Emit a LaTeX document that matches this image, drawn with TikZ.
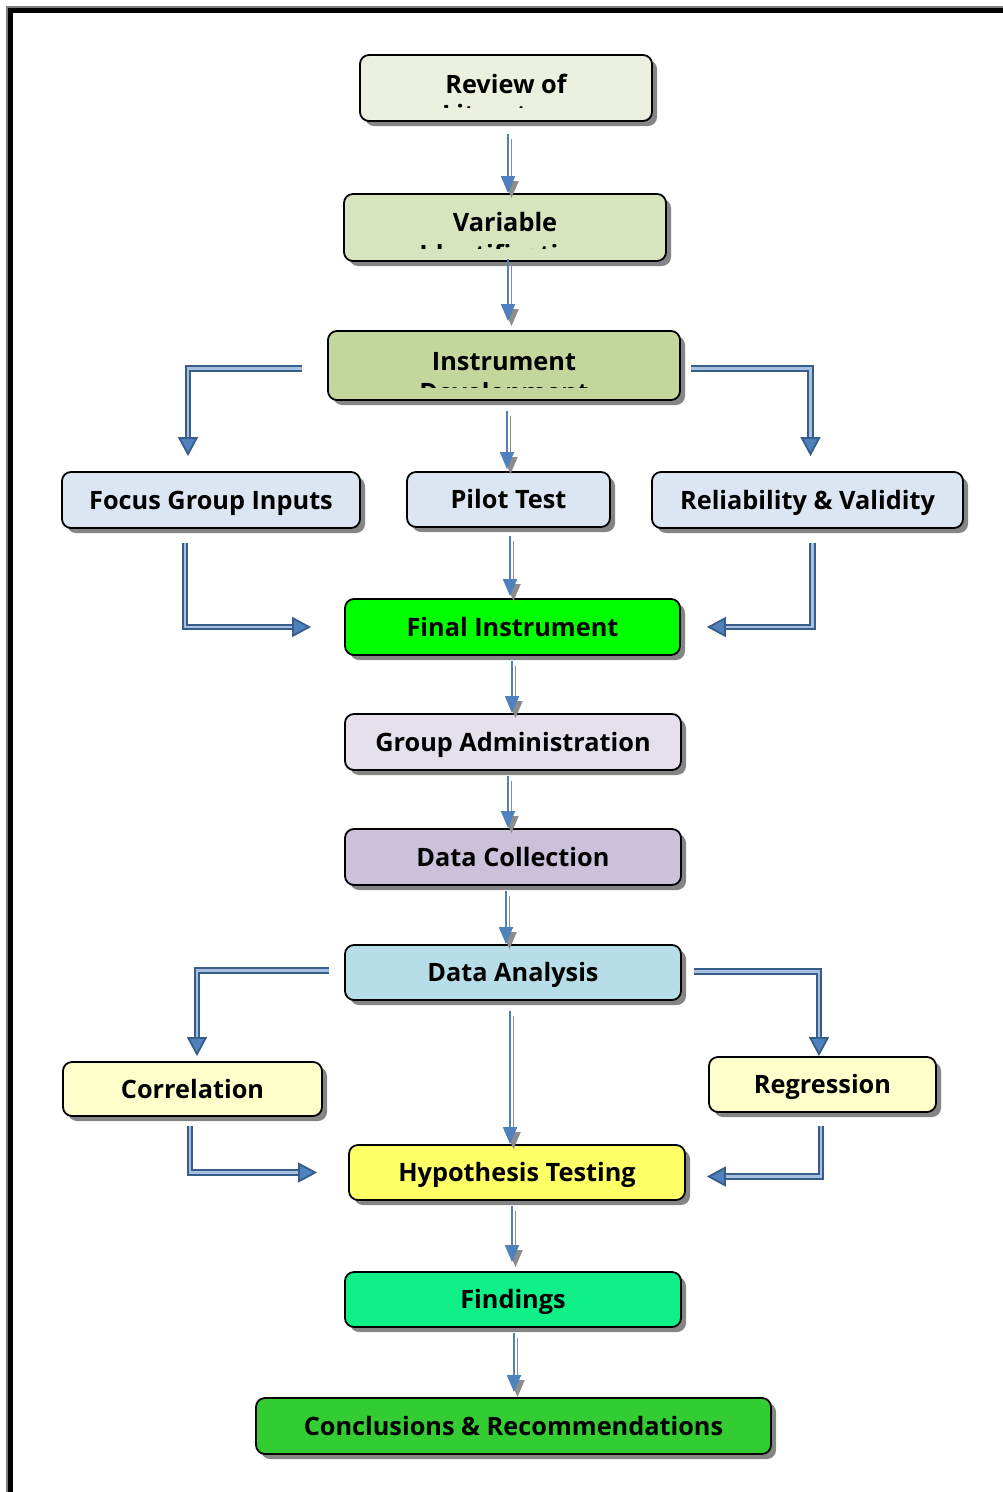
\documentclass[tikz,border=0pt]{standalone}
\usepackage{fontspec}
\setmainfont{Open Sans}
\usetikzlibrary{arrows.meta,shadows,calc}
\definecolor{cRev}{HTML}{EBF1DE}
\definecolor{cVar}{HTML}{D7E4BD}
\definecolor{cIns}{HTML}{C3D69B}
\definecolor{cBlu}{HTML}{DCE6F2}
\definecolor{cFin}{HTML}{00FF00}
\definecolor{cGrp}{HTML}{E6E0EC}
\definecolor{cDC}{HTML}{CCC1DA}
\definecolor{cDA}{HTML}{B7DEE8}
\definecolor{cYel}{HTML}{FFFFCC}
\definecolor{cHyp}{HTML}{FFFF66}
\definecolor{cFnd}{HTML}{10F088}
\definecolor{cCon}{HTML}{33CC33}
\definecolor{ablue}{HTML}{4F81BD}
\definecolor{adark}{HTML}{385D8A}
\definecolor{alight}{HTML}{A7C0E0}
\definecolor{agray}{HTML}{8C8C8C}
\definecolor{sgray}{HTML}{858585}
\begin{document}
\begin{tikzpicture}[x=1pt,y=-1pt,
  box/.style={draw=black, line width=1.8pt, rounded corners=9pt,
    font=\fontsize{25.3}{30}\selectfont\bfseries, text height=22pt, text depth=4pt,
    inner sep=0pt, align=center,
    drop shadow={shadow xshift=5pt, shadow yshift=-5pt, fill=sgray, opacity=1}},
  btext/.style={font=\fontsize{25.3}{30}\selectfont\bfseries, inner sep=0pt, anchor=base},
  vline/.style={draw=ablue, line width=1.8pt, -{Triangle[width=14pt,length=17pt]},
    preaction={draw=agray, line width=1.8pt, -{Triangle[width=14pt,length=17pt]},
      transform canvas={xshift=3.5pt,yshift=-5pt}}},
  elbow/.style={draw=adark, double=alight, double distance=2.6pt, line width=1.8pt,
    line join=miter, -{Triangle[width=20pt,length=19pt,fill=ablue]}}
]
\useasboundingbox (0,0) rectangle (1003,1492);
% frame
\draw[line width=2pt, gray] (7,1500) -- (7,7) -- (1010,7);
\draw[line width=5pt, black] (10.5,1500) -- (10.5,10.5) -- (1010,10.5);

% boxes
\node[box, fill=cRev, minimum width=292pt, minimum height=66pt] (rev) at (506,88) {};
\node[btext] (revt) at (506,93) {Review of};
\begin{scope}
  \clip (362,103) rectangle (650,107);
  \node[btext] (revs) at (506,123) {Literature};
\end{scope}

\node[box, fill=cVar, minimum width=322pt, minimum height=67pt] (var) at (505,227.5) {};
\node[btext] (vart) at (505,231) {Variable};
\begin{scope}
  \clip (346,244) rectangle (664,248);
  \node[btext] (vars) at (505,263) {Identification};
\end{scope}

\node[box, fill=cIns, minimum width=352pt, minimum height=69pt] (ins) at (504,365.5) {};
\node[btext] (inst) at (504,370) {Instrument};
\begin{scope}
  \clip (330,382) rectangle (678,387);
  \node[btext] (inss) at (504,401) {Development};
\end{scope}

\node[box, fill=cBlu, minimum width=298pt, minimum height=56pt] (foc) at (211,500) {Focus Group Inputs};
\node[box, fill=cBlu, minimum width=203pt, minimum height=55pt] (pil) at (508.5,499.5) {Pilot Test};
\node[box, fill=cBlu, minimum width=311pt, minimum height=56pt] (rel) at (807.5,500) {Reliability \& Validity};

\node[box, fill=cFin, minimum width=335pt, minimum height=56pt] (fin) at (512.5,627) {Final Instrument};
\node[box, fill=cGrp, minimum width=336pt, minimum height=56pt] (grp) at (513,742) {Group Administration};
\node[box, fill=cDC, minimum width=336pt, minimum height=56pt] (dc) at (513,857) {Data Collection};
\node[box, fill=cDA, minimum width=336pt, minimum height=55pt] (da) at (513,972.5) {Data Analysis};

\node[box, fill=cYel, minimum width=259pt, minimum height=54pt] (cor) at (192.5,1089) {Correlation};
\node[box, fill=cYel, minimum width=227pt, minimum height=55pt] (reg) at (822.5,1084.5) {Regression};

\node[box, fill=cHyp, minimum width=336pt, minimum height=55pt] (hyp) at (517,1172.5) {Hypothesis Testing};
\node[box, fill=cFnd, minimum width=336pt, minimum height=55pt] (fnd) at (513,1299.5) {Findings};
\node[box, fill=cCon, minimum width=515pt, minimum height=56pt] (con) at (513.5,1426) {Conclusions \& Recommendations};

% vertical arrows
\draw[vline, shorten <=12pt] ([xshift=2pt]rev.south) -- ([xshift=2pt]rev.south |- var.north);
\draw[vline, shorten <=-3pt, shorten >=9pt] ([xshift=3pt]var.south) -- ([xshift=3pt]var.south |- ins.north);
\draw[vline, shorten <=10pt, shorten >=2pt] ([xshift=3pt]ins.south) -- ([xshift=3pt]ins.south |- pil.north);
\draw[vline, shorten <=8pt, shorten >=2pt] ([xshift=1.5pt]pil.south) -- ([xshift=1.5pt]pil.south |- fin.north);
\draw[vline, shorten <=5pt] ([xshift=-0.5pt]fin.south) -- ([xshift=-0.5pt]fin.south |- grp.north);
\draw[vline, shorten <=5pt] ([xshift=-5pt]grp.south) -- ([xshift=-5pt]grp.south |- dc.north);
\draw[vline, shorten <=5pt] ([xshift=-7pt]dc.south) -- ([xshift=-7pt]dc.south |- da.north);
\draw[vline, shorten <=10pt] ([xshift=-3pt]da.south) -- ([xshift=-3pt]da.south |- hyp.north);
\draw[vline, shorten <=5pt, shorten >=9pt] ([xshift=-5pt]hyp.south) -- ([xshift=-5pt]hyp.south |- fnd.north);
\draw[vline, shorten <=5pt, shorten >=5pt] ([xshift=1pt]fnd.south) -- ([xshift=1pt]fnd.south |- con.north);

% elbow arrows
\draw[elbow, shorten >=15pt] ([xshift=-25pt,yshift=-3pt]ins.west) -| ([xshift=-23pt]foc.north);
\draw[elbow, shorten >=15pt] ([xshift=10pt,yshift=-3pt]ins.east) -| ([xshift=3pt]rel.north);
\draw[elbow, shorten <=14pt, shorten >=33pt] ([xshift=-26pt]foc.south) |- (fin.west);
\draw[elbow, shorten <=14pt, shorten >=26pt] ([xshift=5pt]rel.south) |- (fin.east);
\draw[elbow, shorten >=5pt] ([xshift=-15pt,yshift=2pt]da.west) -| ([xshift=4.5pt]cor.north);
\draw[elbow] ([xshift=12pt,yshift=1pt]da.east) -| ([xshift=-3.5pt]reg.north);
\draw[elbow, shorten <=9pt, shorten >=31pt] ([xshift=-2.5pt]cor.south) |- (hyp.west);
\draw[elbow, shorten <=13pt, shorten >=21pt] ([xshift=-1.5pt]reg.south) |- ([yshift=-4pt]hyp.east);
\end{tikzpicture}
\end{document}
